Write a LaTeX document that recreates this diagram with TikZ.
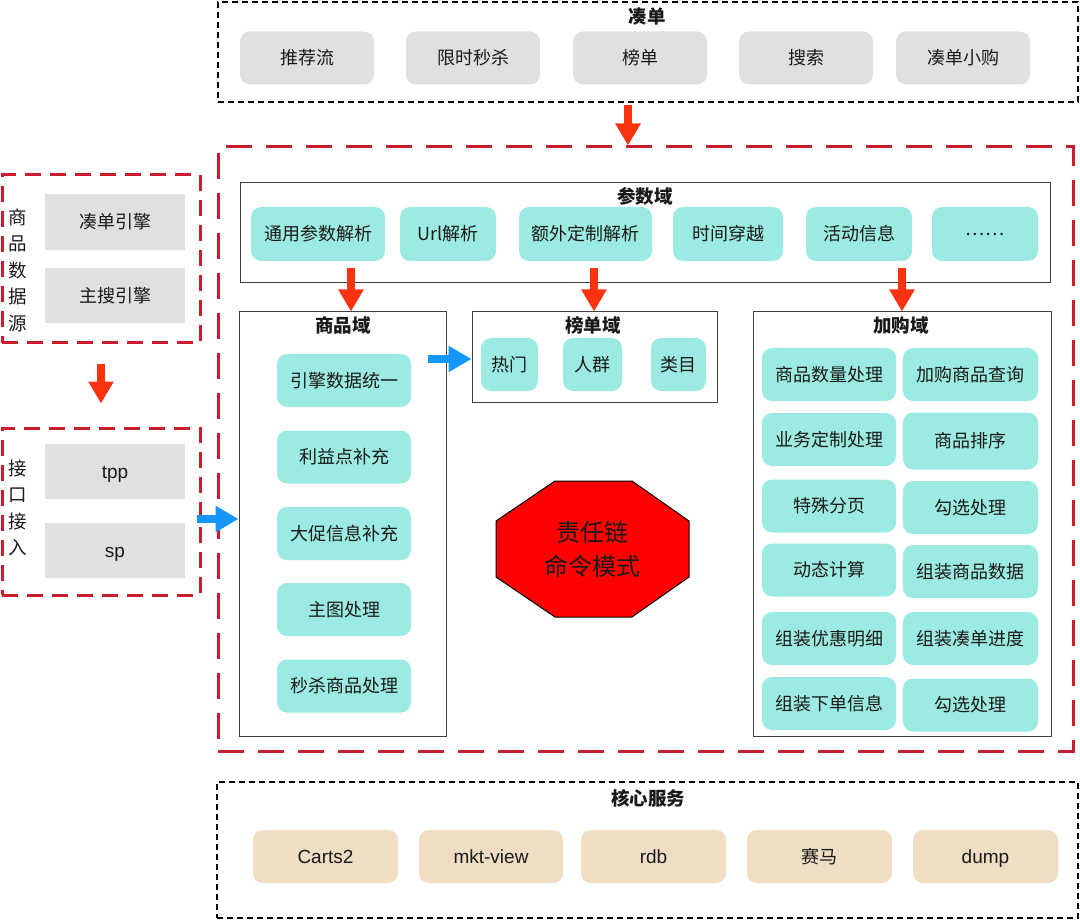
\documentclass[tikz,border=0pt]{standalone}
\usepackage{fontspec}
\setmainfont{Noto Sans CJK SC}
\newfontfamily\latinfont{Liberation Sans}
\usetikzlibrary{arrows.meta,calc}
\definecolor{graybox}{RGB}{224,224,224}
\definecolor{tealbox}{RGB}{155,235,227}
\definecolor{beigebox}{RGB}{240,222,196}
\definecolor{dashred}{RGB}{200,30,45}
\definecolor{arrowred}{RGB}{250,50,15}
\definecolor{arrowblue}{RGB}{20,150,250}
\definecolor{octred}{RGB}{255,0,0}
\definecolor{txt}{RGB}{25,25,25}
\begin{document}
\begin{tikzpicture}[x=1pt,y=-1pt,
 every node/.style={text=txt, font=\fontsize{18}{22}\selectfont, inner sep=0pt},
 rbox/.style={rounded corners=10pt, minimum height=53pt},
 gbox/.style={rbox, fill=graybox, minimum width=134pt},
 tbox/.style={rbox, fill=tealbox},
 bbox/.style={rbox, fill=beigebox, minimum width=145pt},
 flatbox/.style={fill=graybox, minimum width=140pt, minimum height=55pt},
 blackdash/.style={draw=black, line width=1.3pt, dash pattern=on 6pt off 4pt},
 reddash/.style={draw=dashred, line width=3pt, dash pattern=on 26pt off 14pt},
 reddashsmall/.style={draw=dashred, line width=3pt, dash pattern=on 16pt off 9pt},
 dombox/.style={draw=black!75, line width=1pt},
 ttl/.style={font=\fontsize{18.5}{22}\selectfont\bfseries},
 latin/.style={font=\latinfont\fontsize{19}{22}\selectfont, text height=15pt, text depth=2pt},
 vtext/.style={align=center, font=\fontsize{18.5}{26.5}\selectfont},
 redarrow/.style={draw=arrowred, line width=8pt, -{Triangle[width=24pt,length=22pt]}},
 bluearrow/.style={draw=arrowblue, line width=8pt, -{Triangle[width=25pt,length=23pt]}},
]
\useasboundingbox (0,0) rectangle (1080,920);

% ---------- top: 凑单 ----------
\node[blackdash, minimum width=860pt, minimum height=100pt] (top) at (648,52) {};
\node[ttl] (toptitle) at (647,16) {凑单};
\node[gbox] (t1) at (307,58) {推荐流};
\node[gbox] (t2) at (473,58) {限时秒杀};
\node[gbox] (t3) at (640,58) {榜单};
\node[gbox] (t4) at (806,58) {搜索};
\node[gbox] (t5) at (963,58) {凑单小购};

% ---------- main red dashed ----------
\node[reddash, minimum width=855pt, minimum height=604pt] (main) at (645.5,449) {};

% 参数域
\node[dombox, minimum width=810pt, minimum height=100pt] (pbox) at (645,233) {};
\node[ttl] (ptitle) at (645,196) {参数域};
\node[tbox, minimum width=134pt, minimum height=54pt] (p1) at (318,234) {通用参数解析};
\node[tbox, minimum width=96pt, minimum height=54pt] (p2) at (448,234) {Url解析};
\node[tbox, minimum width=133pt, minimum height=54pt] (p3) at (585.5,234) {额外定制解析};
\node[tbox, minimum width=110pt, minimum height=54pt] (p4) at (728,234) {时间穿越};
\node[tbox, minimum width=106pt, minimum height=54pt] (p5) at (859,234) {活动信息};
\node[tbox, minimum width=106pt, minimum height=54pt] (p6) at (985,234) {……};

% 商品域
\node[dombox, minimum width=207pt, minimum height=424pt] (spy) at (342.5,524) {};
\node[ttl] (stitle) at (343,325) {商品域};
\node[tbox, minimum width=134pt] (s1) at (344,380.5) {引擎数据统一};
\node[tbox, minimum width=134pt] (s2) at (344,457) {利益点补充};
\node[tbox, minimum width=134pt] (s3) at (344,533.5) {大促信息补充};
\node[tbox, minimum width=134pt] (s4) at (344,609.5) {主图处理};
\node[tbox, minimum width=134pt] (s5) at (344,686) {秒杀商品处理};

% 榜单域
\node[dombox, minimum width=245pt, minimum height=90pt] (bdy) at (594.5,357) {};
\node[ttl] (btitle) at (593,325) {榜单域};
\node[tbox, minimum width=57pt] (b1) at (509.5,364.5) {热门};
\node[tbox, minimum width=59pt] (b2) at (592.5,364.5) {人群};
\node[tbox, minimum width=55pt] (b3) at (678.5,364.5) {类目};

% 加购域
\node[dombox, minimum width=298pt, minimum height=424pt] (jgy) at (902,524) {};
\node[ttl] (jtitle) at (901,325) {加购域};
\node[tbox, minimum width=134pt] (j1) at (829,374.5) {商品数量处理};
\node[tbox, minimum width=135pt] (j2) at (970.5,374.5) {加购商品查询};
\node[tbox, minimum width=134pt] (j3) at (829,439.5) {业务定制处理};
\node[tbox, minimum width=135pt, minimum height=57pt] (j4) at (970.5,441) {商品排序};
\node[tbox, minimum width=134pt] (j5) at (829,506) {特殊分页};
\node[tbox, minimum width=135pt] (j6) at (970.5,507.5) {勾选处理};
\node[tbox, minimum width=134pt] (j7) at (829,570) {动态计算};
\node[tbox, minimum width=135pt] (j8) at (970.5,571.5) {组装商品数据};
\node[tbox, minimum width=134pt] (j9) at (829,638.5) {组装优惠明细};
\node[tbox, minimum width=135pt] (j10) at (970.5,638.5) {组装凑单进度};
\node[tbox, minimum width=134pt] (j11) at (829,703.5) {组装下单信息};
\node[tbox, minimum width=135pt] (j12) at (970.5,705) {勾选处理};

% octagon
\draw[fill=octred, draw=black, line width=1pt]
  (555,481) -- (632,481) -- (689,521) -- (689,577) -- (632,617) -- (555,617) -- (496,577) -- (496,521) -- cycle;
\node[align=center, font=\fontsize{24}{34}\selectfont] (chain) at (592.5,549) {责任链\\命令模式};

% ---------- left ----------
\node[reddashsmall, minimum width=198pt, minimum height=168pt] (sjy) at (101,259) {};
\node[vtext] (sjytext) at (18,270) {商\\品\\数\\据\\源};
\node[flatbox, minimum height=56pt] (l1) at (115,222) {凑单引擎};
\node[flatbox] (l2) at (115,295.5) {主搜引擎};

\node[reddashsmall, minimum width=198pt, minimum height=167pt] (jkb) at (101,511.5) {};
\node[vtext] (jkbtext) at (18,508) {接\\口\\接\\入};
\node[flatbox, latin] (l3) at (115,471.5) {tpp};
\node[flatbox, latin] (l4) at (115,550.5) {sp};

% ---------- bottom: 核心服务 ----------
\node[blackdash, minimum width=861pt, minimum height=136pt] (core) at (647.5,850) {};
\node[ttl] (ctitle) at (648,798) {核心服务};
\node[bbox, latin] (c1) at (325.5,856.5) {Carts2};
\node[bbox, latin, minimum width=144pt] (c2) at (491,856.5) {mkt-view};
\node[bbox, latin] (c3) at (653.5,856.5) {rdb};
\node[bbox] (c4) at (819.5,856.5) {赛马};
\node[bbox, latin] (c5) at (985.5,856.5) {dump};

% ---------- arrows ----------
\coordinate (ax0) at (628,0);
\coordinate (ax1) at (101,0);
\coordinate (ax2) at (351,0);
\coordinate (ax3) at (594,0);
\coordinate (ax4) at (902,0);
\coordinate (ay1) at (0,519);
\coordinate (ay2) at (0,359);

\draw[redarrow] ($(top.south -| ax0)+(0,2)$) -- (main.north -| ax0);
\draw[redarrow, shorten <=19pt, shorten >=23pt] (sjy.south -| ax1) -- (jkb.north -| ax1);
\draw[redarrow] ($(pbox.south -| ax2)+(0,-15)$) -- (spy.north -| ax2);
\draw[redarrow] ($(pbox.south -| ax3)+(0,-15)$) -- (bdy.north -| ax3);
\draw[redarrow] ($(pbox.south -| ax4)+(0,-15)$) -- (jgy.north -| ax4);
\draw[bluearrow] ($(jkb.east |- ay1)+(-5,0)$) -- (spy.west |- ay1);
\draw[bluearrow] ($(spy.east |- ay2)+(-19,0)$) -- (bdy.west |- ay2);
\end{tikzpicture}
\end{document}
